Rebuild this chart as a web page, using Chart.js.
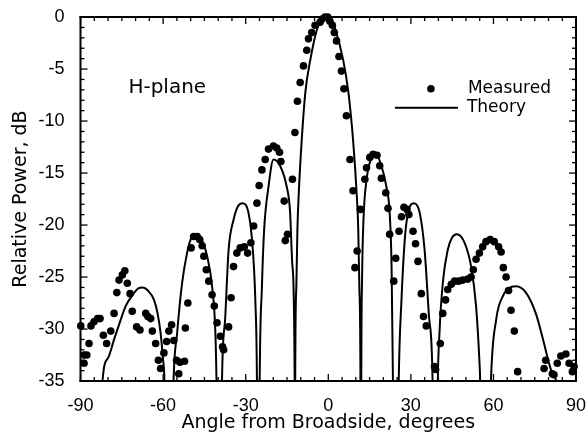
<!DOCTYPE html>
<html>
<head>
<meta charset="utf-8">
<script src="https://cdn.jsdelivr.net/npm/chart.js@4.4.0/dist/chart.umd.min.js"></script>
<style>
  html, body { margin: 0; padding: 0; background: #fff; }
</style>
</head>
<body>
<canvas id="myChart" width="588" height="438"></canvas>
<script>
// measured H-plane pattern (dots)
const measuredAngle = [
  -89.9, -88.7, -88.7, -87.7, -86.9, -86.2, -85.1, -83.8, -82.9, -81.7, -80.5, -79.0,
  -77.8, -76.8, -76.0, -74.8, -73.9, -73.0, -72.0, -71.2, -69.6, -68.4, -66.3, -65.5,
  -64.5, -63.9, -62.7, -61.7, -60.9, -59.7, -58.7, -57.9, -56.9, -56.1, -55.1, -54.3,
  -53.9, -52.2, -51.9, -51.0, -49.8, -48.9, -47.6, -46.7, -45.8, -45.2, -44.3, -43.4,
  -42.2, -41.4, -40.4, -39.2, -38.4, -38.0, -36.2, -35.3, -34.4, -33.2, -32.0, -30.5,
  -29.3, -28.1, -27.1, -25.9, -25.1, -24.1, -22.9, -21.7, -19.9, -18.7, -17.7, -17.2,
  -16.0, -15.6, -14.8, -13.0, -12.1, -11.2, -10.2, -9.0, -7.8, -7.2, -6.0, -4.8,
  -3.0, -2.2, -1.2, -0.2, 0.6, 1.5, 2.2, 3.0, 3.9, 4.8, 5.7, 6.6,
  7.9, 9.0, 9.7, 10.5, 11.7, 13.3, 13.9, 15.1, 16.3, 17.7, 18.7, 19.3,
  20.9, 21.7, 22.3, 23.8, 24.5, 25.7, 26.6, 27.5, 28.6, 29.3, 30.8, 31.7,
  32.6, 33.8, 34.6, 35.6, 38.6, 39.0, 40.7, 41.6, 42.6, 43.4, 44.7, 45.9,
  47.4, 48.9, 50.7, 51.9, 52.7, 53.7, 54.9, 56.1, 57.3, 58.8, 60.3, 61.9,
  62.8, 63.6, 64.6, 65.5, 66.4, 67.6, 68.8, 78.4, 79.0, 81.4, 82.0, 83.2,
  84.5, 86.3, 87.5, 88.7, 89.3
];
const measuredPower = [
  -29.7, -32.5, -33.3, -32.5, -31.4, -29.7, -29.3, -29.0, -29.0, -30.6, -31.4, -30.2,
  -28.5, -26.5, -25.3, -24.8, -24.4, -25.6, -26.6, -28.3, -29.8, -30.1, -28.5, -28.8,
  -29.0, -30.2, -31.4, -33.0, -33.8, -32.3, -31.2, -30.2, -29.6, -31.1, -33.0, -34.3,
  -33.2, -33.1, -29.9, -27.5, -22.2, -21.1, -21.1, -21.4, -22.0, -23.0, -24.3, -25.4,
  -26.7, -27.8, -29.4, -30.7, -31.7, -32.0, -29.8, -27.0, -24.0, -22.7, -22.2, -22.1,
  -22.7, -21.7, -20.1, -17.9, -16.2, -14.7, -13.7, -12.7, -12.4, -12.6, -13.0, -13.9,
  -17.7, -21.5, -20.9, -15.6, -11.1, -8.1, -6.3, -4.7, -3.2, -2.1, -1.5, -0.8,
  -0.5, -0.2, 0, 0, -0.4, -0.8, -1.5, -2.3, -3.8, -5.2, -6.9, -9.5,
  -13.7, -16.7, -24.1, -22.5, -18.5, -15.6, -14.5, -13.5, -13.2, -13.3, -14.3, -15.5,
  -16.9, -18.4, -20.9, -25.4, -23.2, -20.6, -19.2, -18.3, -18.5, -19.0, -20.6, -21.8,
  -23.5, -26.6, -28.8, -29.7, -33.6, -33.9, -31.4, -28.5, -27.2, -26.2, -25.7, -25.4,
  -25.4, -25.3, -25.2, -25.0, -24.3, -23.3, -22.7, -22.1, -21.6, -21.4, -21.6, -22.1,
  -22.6, -24.1, -25.0, -26.3, -28.2, -30.2, -34.1, -33.8, -33.0, -34.3, -34.4, -33.3,
  -32.6, -32.4, -33.3, -34.1, -33.6
];

// theory curve; -60 marks a null below the plot floor
const theoryAngle = [
  -84, -82, -80, -77.8, -75.5, -73.6, -71, -69, -67.4, -65.5, -63.3, -62, -60.9, -60, -59.5,
  -58, -56.2, -54.9, -53.1, -51.3, -50, -48.6, -46.4, -44, -42.2, -41, -40.6,
  -39.6, -38.6, -37.4, -36.2, -34.4, -32.8, -31.2, -29, -27.4, -26.5, -25.9,
  -25.4, -24.9, -24.1, -23.3, -21.7, -19.9, -17.5, -15.1, -13.9, -13, -12.2,
  -12.1, -12.0, -11.6, -11.2, -10.7, -9.7, -8.3, -6.5, -4.1, -2.6, -0.6, 1.4, 2.6,
  5.4, 7.3, 9.1, 10.3, 10.9, 11.3, 11.7,
  11.85, 12.0, 12.3, 12.8, 14.0, 15.6, 17.3, 19.3, 21.1, 22.3, 23.0, 23.5,
  24.5, 25.6, 26.6, 27.8, 29, 31.2, 33.2, 35, 36.6, 37.9,
  38.8, 39.8, 40.4, 41.6, 43.4, 45, 46.7, 49.5, 51.9, 53.7, 54.9, 55.2,
  57, 59.1, 61, 63.3, 65.5, 68.2, 71.8, 75.4, 78.4, 80.2, 82, 83, 85
];
const theoryPower = [
  -60, -35, -32.8, -31.0, -29.2, -27.8, -26.7, -26.1, -26.0, -26.3, -27.2, -28.5, -30.4, -33, -35,
  -60, -35, -30.4, -25.6, -22.7, -21.4, -20.9, -21.2, -23.0, -25.9, -30.4, -35,
  -60, -35, -28.8, -22.4, -19.5, -18.2, -17.9, -18.8, -22.4, -27.2, -35,
  -60, -35, -26, -20.5, -16.3, -13.7, -14.3, -16.3, -18.6, -24, -35,
  -60, -35, -26, -20.4, -16.9, -12.1, -7.2, -4.1, -1.2, -0.4, 0, -0.4, -1.2,
  -4.1, -7.2, -12.1, -16.9, -20.4, -26, -35,
  -60, -35, -25, -19.5, -15.5, -13.6, -13.2, -14.3, -16.3, -18.8, -24, -35,
  -60, -35, -27.2, -21.4, -18.8, -17.9, -18.8, -22.4, -28.8, -35,
  -60, -35, -30.4, -25.6, -22.4, -21.2, -20.9, -21.7, -24.0, -27.8, -33, -35,
  -60, -35, -29.1, -26.9, -26.1, -25.9, -26.5, -28.5, -31.4, -33.3, -34.6, -35.3, -60
];

const xTicks = [-90, -60, -30, 0, 30, 60, 90];
const yTicks = [0, -5, -10, -15, -20, -25, -30, -35];

const measured = measuredAngle.map((a, i) => ({ x: a, y: measuredPower[i] }));
const theory = theoryAngle.map((a, i) => ({ x: a, y: theoryPower[i] }));

const tickFont = "'Liberation Sans', Arial, sans-serif";
const textFont = "'DejaVu Sans', sans-serif";

Chart.defaults.font.family = tickFont;
Chart.defaults.font.size = 18;
Chart.defaults.color = '#000';

// box with inward ticks, the in-plot label and the legend
const frame = {
  id: 'frame',
  afterDraw(chart) {
    const ctx = chart.ctx;
    const x = chart.scales.x, y = chart.scales.y;
    const L = x.getPixelForValue(-90), R = x.getPixelForValue(90);
    const T = y.getPixelForValue(0), B = y.getPixelForValue(-35);
    ctx.save();
    ctx.fillStyle = '#000';
    ctx.fillRect(L - 1, T - 1, R - L + 2, 2);
    ctx.fillRect(L - 1, B - 1, R - L + 2, 2);
    ctx.fillRect(L - 1, T - 1, 2, B - T + 2);
    ctx.fillRect(R - 1, T - 1, 2, B - T + 2);
    for (let v = -90; v <= 90; v += 5) {
      const px = x.getPixelForValue(v);
      const len = v % 30 === 0 ? 7 : 4;
      ctx.fillRect(px - 0.6, B - len, 1.3, len);
      ctx.fillRect(px - 0.6, T, 1.3, len);
    }
    for (let v = -35; v <= 0; v += 1) {
      const py = y.getPixelForValue(v);
      const len = v % 5 === 0 ? 7 : 4;
      ctx.fillRect(L, py - 0.6, len, 1.3);
      ctx.fillRect(R - len, py - 0.6, len, 1.3);
    }

    ctx.textBaseline = 'middle';
    ctx.textAlign = 'left';
    ctx.font = '20px ' + textFont;
    ctx.fillText('H-plane', x.getPixelForValue(-72.6), y.getPixelForValue(-6.8));

    // legend
    const lx = x.getPixelForValue(37.3);
    const ly = y.getPixelForValue(-6.9);
    ctx.font = '17px ' + textFont;
    ctx.beginPath();
    ctx.arc(lx, ly, 3.8, 0, Math.PI * 2);
    ctx.fill();
    ctx.fillText('Measured', lx + 37, ly);
    ctx.fillRect(lx - 36, ly + 18, 63, 2);
    ctx.fillText('Theory', lx + 36, ly + 19);
    ctx.restore();
  }
};

new Chart(document.getElementById('myChart').getContext('2d'), {
  type: 'scatter',
  data: {
    datasets: [
      {
        label: 'Measured',
        data: measured,
        pointRadius: 3.8,
        pointHoverRadius: 3.8,
        backgroundColor: '#000',
        borderWidth: 0,
        clip: false
      },
      {
        label: 'Theory',
        type: 'line',
        data: theory,
        borderColor: '#000',
        borderWidth: 2,
        pointRadius: 0,
        fill: false,
        cubicInterpolationMode: 'monotone'
      }
    ]
  },
  options: {
    responsive: false,
    animation: false,
    devicePixelRatio: 1,
    layout: { padding: { top: 17, right: 12, left: 0, bottom: 0 } },
    plugins: { legend: { display: false }, tooltip: { enabled: false } },
    scales: {
      x: {
        type: 'linear',
        min: -90,
        max: 90,
        afterBuildTicks: s => { s.ticks = xTicks.map(v => ({ value: v })); },
        afterFit: s => { s.height = 57; s.paddingLeft = 0; s.paddingRight = 0; },
        grid: { display: false },
        border: { display: false },
        ticks: { padding: 6, maxRotation: 0 },
        title: {
          display: true,
          text: 'Angle from Broadside, degrees',
          font: { family: textFont, size: 19 },
          padding: { top: 0, bottom: 4 }
        }
      },
      y: {
        type: 'linear',
        min: -35,
        max: 0,
        afterBuildTicks: s => { s.ticks = yTicks.map(v => ({ value: v })); },
        afterFit: s => { s.width = 80.5; s.paddingTop = 0; s.paddingBottom = 0; },
        grid: { display: false },
        border: { display: false },
        ticks: { padding: 8 },
        title: {
          display: true,
          text: 'Relative Power, dB',
          font: { family: textFont, size: 19 },
          padding: { top: 10, bottom: 0 }
        }
      }
    }
  },
  plugins: [frame]
});
</script>
</body>
</html>
